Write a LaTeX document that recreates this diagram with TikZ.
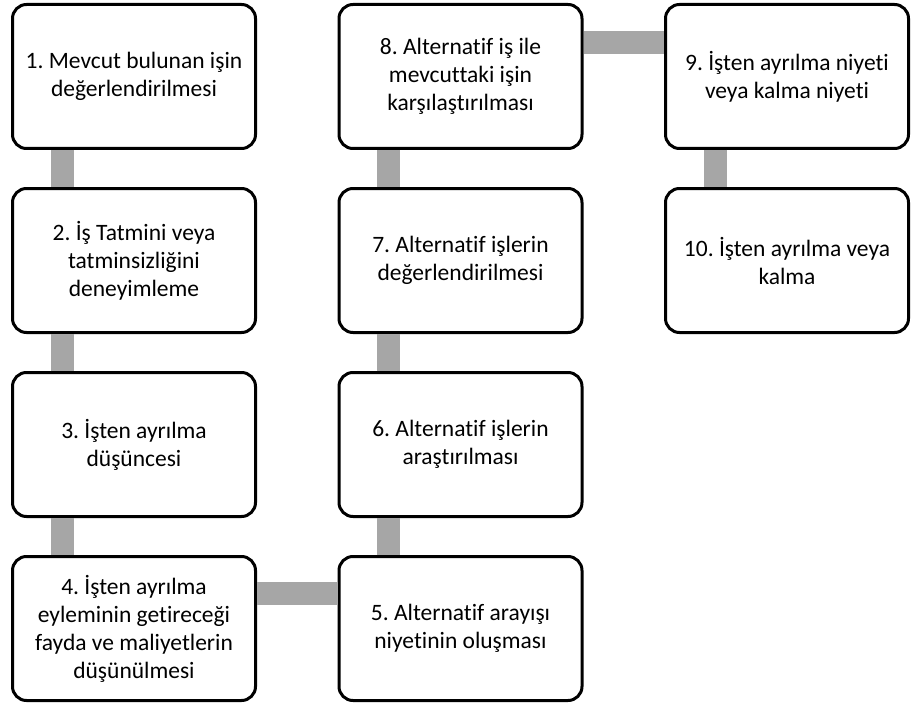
\documentclass[tikz,border=0pt]{standalone}
\usepackage{fontspec}
\setmainfont{Carlito}[Ligatures=NoCommon]
\usetikzlibrary{positioning}
\definecolor{barGrey}{RGB}{166,166,166}
\frenchspacing

\begin{document}
\begin{tikzpicture}[node distance=37pt and 80.5pt, semithick]

        \tikzstyle{stage}=[draw=black, fill=white, line width=3pt, rounded corners=14pt, minimum width=243pt, minimum height=144pt, align=center, font=\fontsize{23.5}{28}\selectfont]
        \tikzstyle{bar}=[draw=barGrey, line width=23pt]

        \useasboundingbox (0,0) rectangle (913pt,-706pt);

        \node[stage] (1) at (134pt,-76.5pt) {1. Mevcut bulunan işin\\değerlendirilmesi};
        \node[stage] (2) [below=of 1] {2. İş Tatmini veya\\tatminsizliğini\\deneyimleme};
        \node[stage] (3) [below=of 2] {3. İşten ayrılma\\düşüncesi};
        \node[stage] (4) [below=of 3] {4. İşten ayrılma\\eyleminin getireceği\\fayda ve maliyetlerin\\düşünülmesi};
        \node[stage] (5) [right=of 4] {5. Alternatif arayışı\\niyetinin oluşması};
        \node[stage] (6) [above=of 5] {6. Alternatif işlerin\\araştırılması};
        \node[stage] (7) [above=of 6] {7. Alternatif işlerin\\değerlendirilmesi};
        \node[stage] (8) [above=of 7] {8. Alternatif iş ile\\mevcuttaki işin\\karşılaştırılması};
        \node[stage] (9) [right=of 8] {9. İşten ayrılma niyeti\\veya kalma niyeti};
        \node[stage] (10) [below=of 9] {10. İşten ayrılma veya\\kalma};

        \path[bar]
        ([xshift=51pt]1.south west) -- ([xshift=51pt]2.north west)
        ([xshift=51pt]2.south west) -- ([xshift=51pt]3.north west)
        ([xshift=51pt]3.south west) -- ([xshift=51pt]4.north west)
        ([yshift=-38pt]4.north east) -- ([yshift=-38pt]5.north west)
        ([xshift=51pt]5.north west) -- ([xshift=51pt]6.south west)
        ([xshift=51pt]6.north west) -- ([xshift=51pt]7.south west)
        ([xshift=51pt]7.north west) -- ([xshift=51pt]8.south west)
        ([yshift=-40pt]8.north east) -- ([yshift=-40pt]9.north west)
        ([xshift=51pt]9.south west) -- ([xshift=51pt]10.north west)
    ;
    \end{tikzpicture}
\end{document}
